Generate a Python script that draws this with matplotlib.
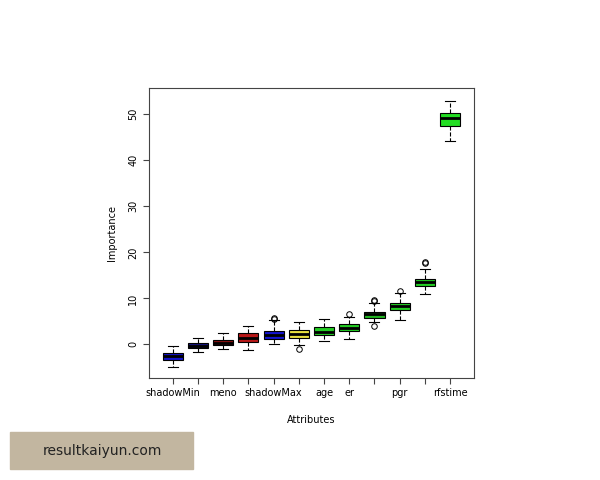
import matplotlib
matplotlib.use("Agg")
import matplotlib.pyplot as plt

labels = ["shadowMin", "", "meno", "", "shadowMax", "", "age", "er", "", "pgr", "", "rfstime"]
q1 = [-3.3, -0.8, -0.2, 0.6, 1.2, 1.4, 2.0, 2.9, 5.7, 7.5, 12.7, 47.5]
med = [-2.6, -0.3, 0.4, 1.5, 2.1, 2.3, 2.8, 3.6, 6.5, 8.4, 13.5, 49.1]
q3 = [-1.8, 0.2, 0.9, 2.5, 3.0, 3.1, 3.8, 4.4, 7.1, 9.1, 14.3, 50.3]
wlo = [-5.0, -1.6, -1.0, -1.2, 0.0, -0.2, 0.7, 1.1, 4.9, 5.3, 10.9, 44.3]
whi = [-0.3, 1.4, 2.5, 4.0, 5.3, 4.9, 5.6, 6.0, 8.9, 11.1, 16.4, 53.0]
fliers = [[], [], [], [], [5.5, 5.8], [-1.0], [], [6.6], [9.4, 9.6, 4.0], [11.7], [17.6, 18.0], []]
colors = ["#1414c8", "#14147a", "#8a1010", "#b81818", "#1414d0", "#e8e040",
          "#22cc22", "#22cc22", "#22b822", "#22cc22", "#22cc22", "#22dd22"]

fig = plt.figure(figsize=(6, 4.8), dpi=100)
ax = fig.add_axes([0.248, 0.2125, 0.542, 0.604])

stats = [dict(q1=a, med=m, q3=b, whislo=lo, whishi=hi, fliers=f)
         for a, m, b, lo, hi, f in zip(q1, med, q3, wlo, whi, fliers)]
bp = ax.bxp(stats, positions=range(1, 13), widths=0.8, patch_artist=True,
            whiskerprops=dict(linestyle="--", color="black", lw=0.8),
            capprops=dict(color="black", lw=0.8),
            medianprops=dict(color="black", lw=2),
            boxprops=dict(color="black", lw=0.8),
            flierprops=dict(marker="o", markerfacecolor="none", markeredgecolor="black",
                            markersize=4, markeredgewidth=0.7))
for patch, c in zip(bp["boxes"], colors):
    patch.set_facecolor(c)

ax.set_xlim(0.05, 12.95)
ax.set_ylim(-7.3, 55.7)
ax.set_yticks([0, 10, 20, 30, 40, 50])
ax.set_yticklabels(["0", "10", "20", "30", "40", "50"], rotation=90, va="center")
ax.set_xticks(range(1, 13))
ax.set_xticklabels(labels)
ax.tick_params(labelsize=7, length=4, color="#444444")
for s in ax.spines.values():
    s.set_color("#444444")
ax.set_xlabel("Attributes", fontsize=7, labelpad=12)
ax.set_ylabel("Importance", fontsize=7, labelpad=8)

fig.patches.append(plt.Rectangle((10 / 600, 11 / 480), 183 / 600, 37 / 480,
                                 transform=fig.transFigure, color="#c2b6a0"))
fig.text(102 / 600, 29 / 480, "resultkaiyun.com", ha="center", va="center",
         fontsize=10, color="#222222")

fig.savefig("out.png", dpi=100)
